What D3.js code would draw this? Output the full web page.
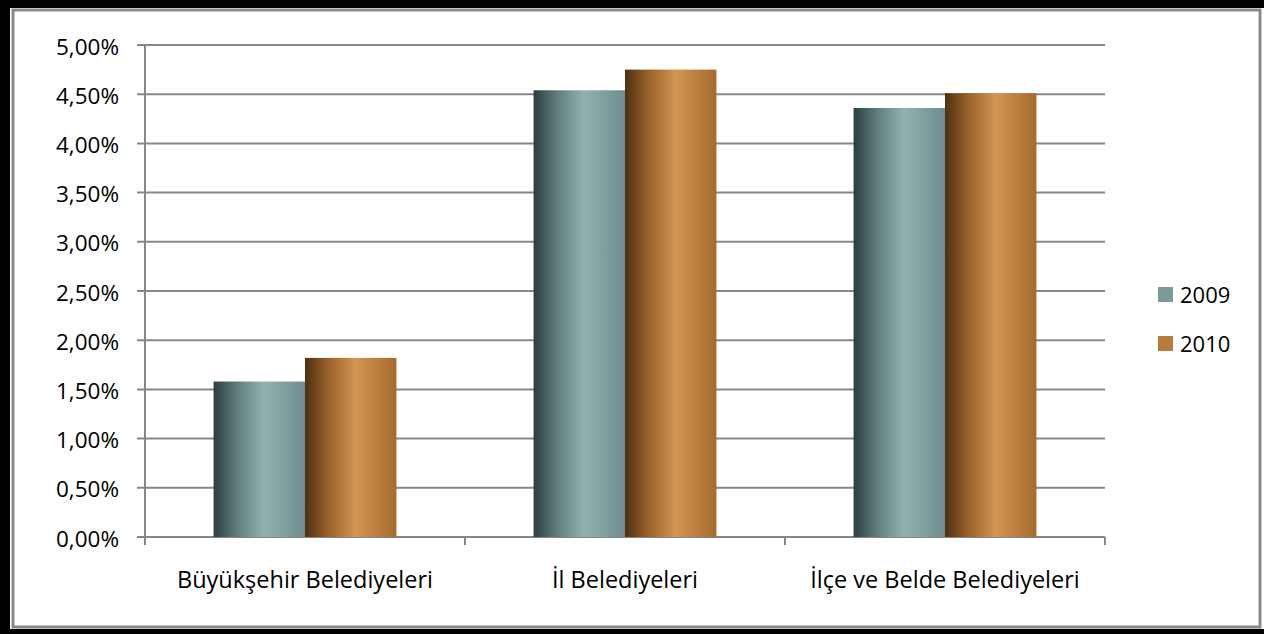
<!DOCTYPE html>
<html>
<head>
<meta charset="utf-8">
<script src="https://cdn.jsdelivr.net/npm/d3@7"></script>
<style>
body { margin: 0; background: #fff; }
svg { display: block; font-family: "Open Sans", "Noto Sans", sans-serif; }
</style>
</head>
<body>
<svg id="chart"></svg>
<script>
var width = 1264,
    height = 634;

var categories = ["Büyükşehir Belediyeleri", "İl Belediyeleri", "İlçe ve Belde Belediyeleri"];
var seriesNames = ["2009", "2010"];
var values2009 = [1.58, 4.54, 4.36];
var values2010 = [1.82, 4.75, 4.51];
var yTicks = [0, 0.5, 1, 1.5, 2, 2.5, 3, 3.5, 4, 4.5, 5];

var svg = d3.select("#chart").attr("width", width).attr("height", height);

// frame
svg.append("rect").attr("width", width).attr("height", height).attr("fill", "#000");
svg.append("rect").attr("x", 10).attr("y", 8).attr("width", width - 10).attr("height", 621).attr("fill", "#fff");
svg.append("rect").attr("x", 13).attr("y", 10).attr("width", 1247).attr("height", 617)
    .attr("fill", "none").attr("stroke", "#8a8a8a").attr("stroke-width", 3);

var defs = svg.append("defs");
function grad(id, stops) {
    var g = defs.append("linearGradient").attr("id", id)
        .attr("x1", "0%").attr("x2", "100%").attr("y1", "0%").attr("y2", "0%");
    stops.forEach(function(s) {
        g.append("stop").attr("offset", s[0]).attr("stop-color", s[1]);
    });
}
grad("g2009", [["0%", "#2b3e40"], ["25%", "#5f7c7d"], ["55%", "#94b1b1"], ["100%", "#6d8d8e"]]);
grad("g2010", [["0%", "#4d3013"], ["25%", "#996028"], ["55%", "#d29552"], ["100%", "#a66a2f"]]);

var x = d3.scaleBand().domain(categories).range([145, 1105]).paddingInner(0).paddingOuter(0);
var y = d3.scaleLinear().domain([0, 5]).range([537, 45]);

// gridlines
svg.append("g").selectAll("line").data(yTicks).enter().append("line")
    .attr("x1", 137).attr("x2", 1105)
    .attr("y1", function(d) { return y(d); }).attr("y2", function(d) { return y(d); })
    .attr("stroke", "#878787").attr("stroke-width", 2);

// y axis line
svg.append("line").attr("x1", 145).attr("x2", 145).attr("y1", 45).attr("y2", 545)
    .attr("stroke", "#878787").attr("stroke-width", 2);

// x ticks at category borders
var borders = categories.map(function(c) { return x(c); }).concat([x.range()[1]]);
svg.append("g").selectAll("line").data(borders).enter().append("line")
    .attr("x1", function(d) { return d; }).attr("x2", function(d) { return d; })
    .attr("y1", 537).attr("y2", 545)
    .attr("stroke", "#878787").attr("stroke-width", 2);

// y labels
svg.append("g").selectAll("text").data(yTicks).enter().append("text")
    .attr("x", 119).attr("y", function(d) { return y(d) + 9.5; })
    .attr("text-anchor", "end").attr("font-size", 22.5).attr("fill", "#000")
    .text(function(d) { return d.toFixed(2).replace(".", ",") + "%"; });

// bars
var bw = x.bandwidth() / 3.5;
var series = [values2009, values2010];
series.forEach(function(vals, si) {
    svg.append("g").selectAll("rect").data(vals).enter().append("rect")
        .attr("x", function(d, i) { return x(categories[i]) + x.bandwidth() / 2 - bw + si * bw; })
        .attr("y", function(d) { return y(d); })
        .attr("width", bw)
        .attr("height", function(d) { return y(0) - y(d); })
        .attr("fill", "url(#g" + seriesNames[si] + ")");
});

// category labels
svg.append("g").selectAll("text").data(categories).enter().append("text")
    .attr("x", function(d) { return x(d) + x.bandwidth() / 2; })
    .attr("y", 588)
    .attr("text-anchor", "middle").attr("font-size", 23.5).attr("fill", "#000")
    .text(function(d) { return d; });

// legend
var legendColors = ["#7a9a9b", "#b87b3d"];
var legend = svg.append("g").selectAll("g").data(seriesNames).enter().append("g")
    .attr("transform", function(d, i) { return "translate(1158," + (287 + i * 49) + ")"; });
legend.append("rect").attr("width", 15).attr("height", 15)
    .attr("fill", function(d, i) { return legendColors[i]; });
legend.append("text").attr("x", 22).attr("y", 16).attr("font-size", 22).attr("fill", "#000")
    .text(function(d) { return d; });
</script>
</body>
</html>
